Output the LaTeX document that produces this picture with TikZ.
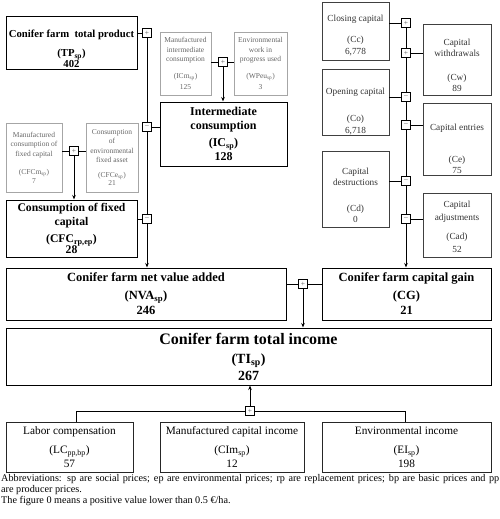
\documentclass[tikz,border=0pt]{standalone}
\usepackage{fontspec}
\setmainfont{Liberation Serif}
\usetikzlibrary{arrows.meta}
\newcommand{\padtop}[1]{\rule{0pt}{#1}}

\begin{document}
\begin{tikzpicture}[x=1pt, y=-1pt,
    >={Stealth[length=4.5pt,width=3.5pt]},
    bigbox/.style={draw, line width=1pt, align=center, inner sep=0pt, fill=white},
    greybox/.style={draw=black!35, line width=0.8pt, align=center, inner sep=0pt,
        text=black!60, font=\fontsize{7.5}{9.5}\selectfont},
    capbox/.style={draw=black!75, line width=0.9pt, align=center, inner sep=0pt,
        text=black!80, font=\fontsize{9.3}{11.5}\selectfont},
    incbox/.style={draw=black!85, line width=1pt, align=center, inner sep=0pt,
        font=\fontsize{11.3}{13.5}\selectfont},
    signbox/.style={draw, line width=0.9pt, fill=white, minimum size=9pt, inner sep=0pt,
        text=black!65, font=\fontsize{7.5}{7.5}\selectfont},
    link/.style={line width=0.9pt}]
\useasboundingbox (0,0) rectangle (500,519);

% Producto e consumo intermedio
\node[bigbox, minimum width=131pt, minimum height=52pt, font=\fontsize{10.7}{12.8}\selectfont\bfseries]
    (TP) at (71.5,43) {\padtop{19pt}Conifer farm~ total product\\[7pt](TP\textsubscript{sp})\\[-2pt]402};
\node[greybox, minimum width=51pt, minimum height=63pt] (ICm) at (185.5,63.5)
    {Manufactured\\intermediate\\consumption\\[7pt](ICm\textsubscript{sp})\\[2pt]125};
\node[greybox, minimum width=53pt, minimum height=63pt] (WPeu) at (260.5,63.5)
    {Environmental\\work in\\progress used\\[7pt](WPeu\textsubscript{sp})\\[2pt]3};
\node[bigbox, minimum width=127pt, minimum height=64pt, font=\fontsize{12}{14.4}\selectfont\bfseries]
    (IC) at (223.5,134) {Intermediate\\consumption\\[2pt](IC\textsubscript{sp})\\128};

% Consumo de capital fixo
\node[greybox, minimum width=56pt, minimum height=69pt] (CFCm) at (34,157.5)
    {Manufactured\\consumption of\\fixed capital\\[9pt](CFCm\textsubscript{sp})\\[-1pt]7};
\node[greybox, minimum width=52pt, minimum height=69pt] (CFCe) at (112,157.5)
    {Consumption\\of\\environmental\\fixed asset\\[5pt](CFCe\textsubscript{sp})\\[-1pt]21};
\node[bigbox, minimum width=131pt, minimum height=57pt, font=\fontsize{11.7}{14}\selectfont\bfseries]
    (CFC) at (71.5,228.5) {Consumption of fixed\\capital\\[3pt](CFC\textsubscript{rp,ep})\\[-3pt]28};

% Ganho de capital
\node[capbox, minimum width=67pt, minimum height=58pt] (Cc) at (355.5,31)
    {\padtop{15pt}Closing capital\\[10pt](Cc)\\6,778};
\node[capbox, minimum width=68pt, minimum height=71pt] (Cw) at (457,59.5)
    {\padtop{18pt}Capital\\withdrawals\\[12pt](Cw)\\89};
\node[capbox, minimum width=67pt, minimum height=66pt] (Co) at (355.5,102)
    {\padtop{25pt}Opening capital\\[16pt](Co)\\6,718};
\node[capbox, minimum width=68pt, minimum height=72pt] (Ce) at (457,139)
    {\padtop{27pt}Capital entries\\[20pt](Ce)\\75};
\node[capbox, minimum width=67pt, minimum height=76pt] (Cd) at (355.5,189)
    {\padtop{19pt}Capital\\destructions\\[14pt](Cd)\\0};
\node[capbox, minimum width=68pt, minimum height=64pt] (Cad) at (457,225)
    {\padtop{11pt}Capital\\[1.5pt]adjustments\\[7pt](Cad)\\[2pt]52};

% Valor acrescentado, ganho e renda total
\node[bigbox, minimum width=280pt, minimum height=52pt, font=\fontsize{12.5}{15}\selectfont\bfseries]
    (NVA) at (146,294) {Conifer farm net value added\\[3pt](NVA\textsubscript{sp})\\246};
\node[bigbox, minimum width=169pt, minimum height=52pt, font=\fontsize{12.5}{15}\selectfont\bfseries]
    (CG) at (406.5,294) {Conifer farm capital gain\\[3pt](CG)\\21};
\node[bigbox, minimum width=485pt, minimum height=57pt, font=\fontsize{14}{17}\selectfont\bfseries]
    (TI) at (248.5,356.5) {{\fontsize{16}{19}\selectfont Conifer farm total income}\\[2pt](TI\textsubscript{sp})\\267};

% Componentes da renda
\node[incbox, minimum width=127pt, minimum height=50pt] (LC) at (69.5,447)
    {Labor compensation\\[6pt](LC\textsubscript{pp,bp})\\57};
\node[incbox, minimum width=144pt, minimum height=50pt] (CIm) at (232,447)
    {Manufactured capital income\\[6pt](CIm\textsubscript{sp})\\12};
\node[incbox, minimum width=169pt, minimum height=50pt] (EI) at (406.5,447)
    {Environmental income\\[6pt](EI\textsubscript{sp})\\198};

% Sinais
\node[signbox] (pTP) at (147,33) {+};
\node[signbox] (mIC) at (147,127) {--};
\node[signbox] (mCFC) at (147,219) {--};
\node[signbox] (pICm) at (223,62) {+};
\node[signbox] (pCFCm) at (74,151) {+};
\node[signbox] (pCc) at (406,23) {+};
\node[signbox] (pCw) at (406,53) {+};
\node[signbox] (mCo) at (406,97) {--};
\node[signbox] (mCe) at (406,125) {--};
\node[signbox] (mCd) at (406,181) {--};
\node[signbox] (mCad) at (406,219) {--};
\node[signbox] (pNVA) at (303,284) {+};
\node[signbox] (pTI) at (250,411) {+};

% Ligacoes
\draw[link] (TP.east |- pTP) -- (pTP);
\draw[link] (pTP) -- (mIC) -- (mCFC);
\draw[link] (mIC) -- (mIC -| IC.west);
\draw[link] (mCFC) -- (mCFC -| CFC.east);
\draw[link,->] (mCFC) -- (mCFC |- NVA.north);
\draw[link] (ICm.east |- pICm) -- (pICm) -- (pICm -| WPeu.west);
\draw[link,->] (pICm) -- (pICm |- IC.north);
\draw[link] (CFCm.east |- pCFCm) -- (pCFCm) -- (pCFCm -| CFCe.west);
\draw[link,->] (pCFCm) -- (pCFCm |- CFC.north);
\draw[link] (Cc.east |- pCc) -- (pCc);
\draw[link] (pCw) -- (pCw -| Cw.west);
\draw[link] (Co.east |- mCo) -- (mCo);
\draw[link] (mCe) -- (mCe -| Ce.west);
\draw[link] (Cd.east |- mCd) -- (mCd);
\draw[link] (mCad) -- (mCad -| Cad.west);
\draw[link] (pCc) -- (pCw) -- (mCo) -- (mCe) -- (mCd) -- (mCad);
\draw[link,->] (mCad) -- (mCad |- CG.north);
\draw[link] (NVA.east |- pNVA) -- (pNVA) -- (pNVA -| CG.west);
\draw[link,->] (pNVA) -- (pNVA |- TI.north);
\draw[link] ([xshift=7pt]LC.north) |- (pTI) -| ([xshift=-1.5pt]EI.north);
\draw[link,->] (pTI) -- (pTI |- TI.south);

% Notas
\node[anchor=north west, text width=498pt, align=justify, inner sep=0pt,
    font=\fontsize{10.2}{11}\selectfont] (notes) at (1,474.5)
    {Abbreviations: sp are social prices; ep are environmental prices; rp are replacement prices; bp are basic prices and pp\linebreak
    are producer prices.\newline
    The figure 0 means a positive value lower than 0.5 €/ha.};
\end{tikzpicture}
\end{document}
